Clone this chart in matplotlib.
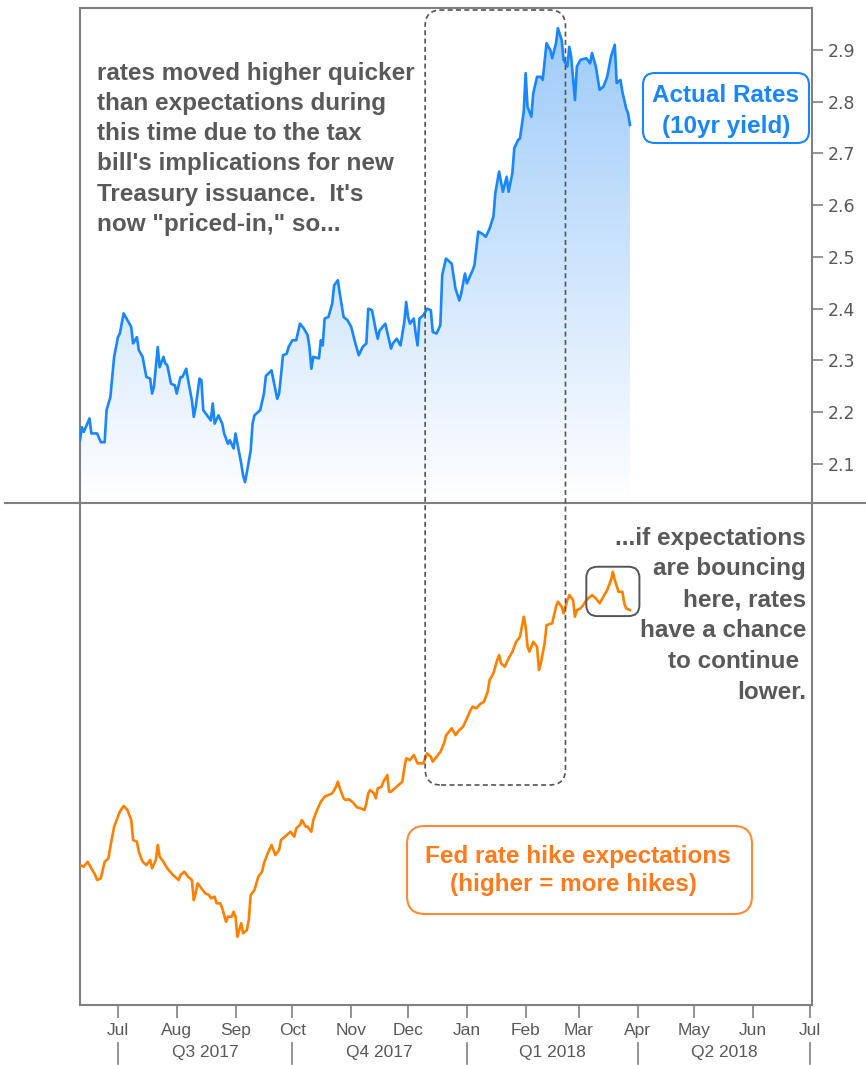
import matplotlib
matplotlib.use("Agg")
import matplotlib.pyplot as plt
import matplotlib.dates as mdates
import numpy as np
import pandas as pd
from matplotlib.patches import FancyBboxPatch
from matplotlib.lines import Line2D
from matplotlib.transforms import IdentityTransform, blended_transform_factory
from matplotlib.colors import LinearSegmentedColormap

# day offsets are counted from 1 Jul 2017
start = pd.Timestamp("2017-07-01")

# 10yr Treasury yield
yield_days = [-20, -19, -18, -15, -14, -11, -9, -7, -6, -4,
              -3, -2, 0, 1, 3, 5, 7, 8, 10, 11,
              13, 15, 17, 18, 19, 21, 22, 24, 25, 26,
              28, 30, 31, 33, 34, 36, 37, 39, 40, 41,
              43, 44, 45, 47, 49, 50, 51, 53, 55, 56,
              58, 59, 61, 62, 64, 65, 66, 67, 68, 70,
              71, 72, 75, 77, 78, 81, 82, 84, 85, 86,
              87, 89, 90, 92, 94, 96, 98, 100, 101, 102,
              103, 106, 107, 108, 109, 111, 113, 114, 116, 117,
              119, 121, 123, 125, 127, 129, 131, 132, 134, 136,
              137, 138, 141, 142, 144, 145, 147, 149, 151, 152,
              153, 154, 156, 157, 158, 159, 161, 163, 165, 166,
              168, 170, 171, 173, 176, 178, 180, 181, 183, 184,
              187, 188, 190, 192, 194, 196, 198, 199, 201, 203,
              205, 206, 208, 209, 211, 212, 214, 215, 216, 218,
              219, 221, 223, 224, 226, 228, 229, 231, 232, 234,
              235, 237, 238, 239, 241, 242, 244, 247, 249, 250,
              252, 254, 256, 258, 260, 262, 263, 265, 266, 268,
              269, 270]
yield_vals = [2.146, 2.171, 2.162, 2.188, 2.159, 2.159, 2.142, 2.142, 2.204, 2.229,
              2.268, 2.307, 2.345, 2.352, 2.391, 2.378, 2.365, 2.333, 2.345, 2.320,
              2.307, 2.268, 2.265, 2.236, 2.249, 2.326, 2.287, 2.307, 2.294, 2.291,
              2.255, 2.252, 2.236, 2.268, 2.268, 2.284, 2.262, 2.223, 2.191, 2.210,
              2.265, 2.262, 2.204, 2.194, 2.184, 2.217, 2.178, 2.194, 2.178, 2.159,
              2.139, 2.146, 2.130, 2.159, 2.120, 2.101, 2.078, 2.065, 2.084, 2.126,
              2.178, 2.194, 2.204, 2.236, 2.270, 2.281, 2.262, 2.226, 2.236, 2.271,
              2.310, 2.313, 2.326, 2.339, 2.339, 2.371, 2.362, 2.349, 2.326, 2.284,
              2.307, 2.304, 2.339, 2.329, 2.381, 2.384, 2.410, 2.445, 2.455, 2.429,
              2.384, 2.378, 2.365, 2.336, 2.310, 2.326, 2.333, 2.400, 2.397, 2.358,
              2.342, 2.358, 2.371, 2.355, 2.323, 2.333, 2.342, 2.329, 2.374, 2.413,
              2.384, 2.371, 2.381, 2.352, 2.329, 2.381, 2.387, 2.400, 2.397, 2.355,
              2.352, 2.368, 2.465, 2.497, 2.487, 2.439, 2.416, 2.429, 2.468, 2.449,
              2.474, 2.484, 2.549, 2.545, 2.539, 2.555, 2.578, 2.623, 2.665, 2.626,
              2.655, 2.626, 2.662, 2.710, 2.726, 2.729, 2.781, 2.855, 2.790, 2.771,
              2.816, 2.848, 2.848, 2.842, 2.913, 2.900, 2.884, 2.913, 2.942, 2.919,
              2.881, 2.868, 2.906, 2.887, 2.803, 2.868, 2.881, 2.884, 2.874, 2.894,
              2.868, 2.823, 2.829, 2.848, 2.887, 2.910, 2.836, 2.842, 2.819, 2.787,
              2.778, 2.755]

# fed rate hike expectations (index, no scale shown on the chart)
fed_days = [-20, -18, -16, -14, -12, -11, -9, -7, -5, -4,
            -2, 0, 1, 3, 5, 7, 8, 10, 11, 13,
            15, 17, 18, 20, 21, 22, 24, 26, 29, 32,
            33, 35, 37, 39, 40, 41, 42, 44, 46, 48,
            49, 51, 52, 54, 55, 57, 58, 60, 61, 62,
            63, 65, 66, 68, 69, 70, 72, 74, 76, 77,
            79, 81, 83, 85, 86, 89, 91, 93, 94, 96,
            97, 99, 100, 102, 103, 105, 107, 109, 111, 113,
            115, 116, 117, 119, 120, 122, 124, 126, 128, 130,
            131, 132, 133, 135, 136, 137, 139, 140, 142, 143,
            144, 146, 148, 150, 151, 152, 154, 156, 158, 159,
            161, 163, 165, 166, 168, 170, 172, 173, 176, 178,
            180, 182, 184, 186, 187, 189, 191, 193, 195, 196,
            198, 200, 201, 202, 204, 206, 208, 210, 212, 213,
            214, 215, 216, 217, 219, 221, 222, 223, 225, 226,
            229, 231, 232, 234, 235, 237, 238, 240, 241, 242,
            244, 246, 247, 250, 252, 254, 256, 258, 260, 261,
            262, 264, 266, 267, 268, 270]
fed_vals = [0.933, 0.922, 0.955, 0.911, 0.867, 0.833, 0.845, 0.955, 0.978, 1.055,
            1.189, 1.255, 1.289, 1.327, 1.300, 1.233, 1.100, 1.089, 1.022, 0.955,
            0.933, 0.967, 0.911, 0.967, 1.067, 0.989, 0.955, 0.911, 0.867, 0.833,
            0.867, 0.889, 0.855, 0.833, 0.700, 0.745, 0.811, 0.778, 0.745, 0.733,
            0.711, 0.722, 0.678, 0.678, 0.645, 0.555, 0.589, 0.589, 0.622, 0.589,
            0.455, 0.545, 0.478, 0.500, 0.567, 0.733, 0.767, 0.855, 0.889, 0.945,
            1.011, 1.067, 1.000, 1.033, 1.100, 1.133, 1.155, 1.122, 1.178, 1.200,
            1.233, 1.189, 1.189, 1.155, 1.233, 1.300, 1.355, 1.389, 1.400, 1.411,
            1.455, 1.489, 1.445, 1.378, 1.367, 1.371, 1.349, 1.318, 1.311, 1.300,
            1.345, 1.411, 1.433, 1.411, 1.378, 1.445, 1.455, 1.489, 1.533, 1.422,
            1.422, 1.445, 1.467, 1.489, 1.578, 1.645, 1.633, 1.667, 1.611, 1.611,
            1.611, 1.678, 1.655, 1.622, 1.655, 1.687, 1.745, 1.797, 1.845, 1.800,
            1.833, 1.855, 1.911, 1.967, 1.989, 1.978, 2.007, 2.022, 2.089, 2.167,
            2.211, 2.300, 2.333, 2.278, 2.255, 2.311, 2.355, 2.422, 2.455, 2.522,
            2.589, 2.522, 2.389, 2.355, 2.422, 2.389, 2.233, 2.278, 2.411, 2.533,
            2.545, 2.655, 2.689, 2.655, 2.611, 2.700, 2.733, 2.700, 2.589, 2.633,
            2.645, 2.678, 2.700, 2.733, 2.711, 2.678, 2.722, 2.767, 2.833, 2.889,
            2.833, 2.755, 2.755, 2.678, 2.645, 2.633]

month_labels = ["Jul", "Aug", "Sep", "Oct", "Nov", "Dec", "Jan",
                "Feb", "Mar", "Apr", "May", "Jun", "Jul"]
quarter_labels = ["Q3 2017", "Q4 2017", "Q1 2018", "Q2 2018"]
yield_ticks = [2.1, 2.2, 2.3, 2.4, 2.5, 2.6, 2.7, 2.8, 2.9]

yield_dates = start + pd.to_timedelta(yield_days, unit="D")
fed_dates = start + pd.to_timedelta(fed_days, unit="D")
month_ticks = pd.date_range("2017-07-01", "2018-07-01", freq="MS")
quarter_edges = pd.date_range("2017-07-01", "2018-07-01", freq="QS")

BLUE = "#1786ff"
ORANGE = "#ff8000"
GRAY = "#595959"
FRAME = "#808080"

plt.rcParams["font.family"] = ["Liberation Sans", "DejaVu Sans"]

W, H = 866, 1065
fig = plt.figure(figsize=(W / 100, H / 100), dpi=100)
ax_top = fig.add_axes([80 / W, 1 - 503 / H, 732 / W, 495 / H])
ax_bot = fig.add_axes([80 / W, 1 - 1005 / H, 732 / W, 502 / H], sharex=ax_top)

x0, x1 = pd.Timestamp("2017-06-11"), pd.Timestamp("2018-07-02")
ylo, yhi = 2.0246, 2.981

# --- top panel: 10yr yield with gradient fill
ax_top.plot(yield_dates, yield_vals, color=BLUE, lw=1.9, zorder=3)
poly = ax_top.fill_between(yield_dates, yield_vals, ylo, color="none", lw=0)
cmap = LinearSegmentedColormap.from_list("fade", ["#ffffff", "#9ecbfa"])
grad = np.linspace(0, 1, 256).reshape(-1, 1)
im = ax_top.imshow(grad, extent=[mdates.date2num(x0), mdates.date2num(x1), ylo, max(yield_vals)],
                   origin="lower", aspect="auto", cmap=cmap, zorder=1)
im.set_clip_path(poly.get_paths()[0], transform=ax_top.transData)
ax_top.set_xlim(x0, x1)
ax_top.set_ylim(ylo, yhi)
ax_top.yaxis.tick_right()
ax_top.set_yticks(yield_ticks)
ax_top.set_yticklabels([f"{v:.1f}" for v in yield_ticks], family="DejaVu Sans")
ax_top.tick_params(axis="y", length=8, width=1.2, color=FRAME, labelsize=12.5,
                   labelcolor=GRAY, pad=3)
ax_top.tick_params(axis="x", bottom=False, labelbottom=False)
ax_top.spines["bottom"].set_visible(False)

# --- bottom panel: hike expectations
ax_bot.plot(fed_dates, fed_vals, color=ORANGE, lw=1.9, zorder=3)
ax_bot.set_ylim(0, 3.347)
ax_bot.set_yticks([])
ax_bot.spines["top"].set_visible(False)
ax_bot.set_xticks(month_ticks)
ax_bot.set_xticklabels(month_labels)
ax_bot.tick_params(axis="x", length=9, width=1.2, color=FRAME, labelsize=12.5,
                   labelcolor=GRAY, pad=4)
ax_bot.set_xlim(x0, x1)

for ax in (ax_top, ax_bot):
    for sp in ax.spines.values():
        sp.set_color(FRAME)
        sp.set_linewidth(1.5)

# quarter row under the months
qtrans = blended_transform_factory(ax_bot.transData, fig.transFigure)
for d in quarter_edges:
    fig.add_artist(Line2D([mdates.date2num(d)] * 2, [1 - 1043 / H, 1 - 1064 / H],
                          transform=qtrans, color=FRAME, lw=1.2))
for a, b, lab in zip(quarter_edges[:-1], quarter_edges[1:], quarter_labels):
    mid = mdates.date2num(a) + (mdates.date2num(b) - mdates.date2num(a)) / 2
    fig.text(mid, 1 - 1053 / H, lab, transform=qtrans, ha="center", va="center",
             fontsize=12.5, color=GRAY)

# divider between the two panels
fig.add_artist(Line2D([5 / W, 1], [1 - 503 / H] * 2, transform=fig.transFigure,
                      color=FRAME, lw=1.5))


def px_box(xa, ya, xb, yb, r, **kw):
    # box given in image pixels (y down)
    p = FancyBboxPatch((xa, H - yb), xb - xa, yb - ya,
                       boxstyle=f"round,pad=0,rounding_size={r}",
                       transform=IdentityTransform(), **kw)
    fig.add_artist(p)


def put(x, y, s, **kw):
    fig.text(x / W, 1 - y / H, s, fontsize=17.5, fontweight="bold", **kw)


# dashed window Dec-Feb across both panels
fig.canvas.draw()
dx0 = ax_bot.transData.transform((mdates.date2num(pd.Timestamp("2017-12-10")), 0))[0]
dx1 = ax_bot.transData.transform((mdates.date2num(pd.Timestamp("2018-02-22")), 0))[0]
fig.add_artist(FancyBboxPatch((dx0, H - 785), dx1 - dx0, 775,
                              boxstyle="round,pad=0,rounding_size=16",
                              transform=IdentityTransform(), fc="none",
                              ec="#555555", lw=1.2, ls=(0, (3, 2)), zorder=5))

# small box around the latest bounce in expectations
b0 = ax_bot.transData.transform((mdates.date2num(pd.Timestamp("2018-03-05")), 2.593))
b1 = ax_bot.transData.transform((mdates.date2num(pd.Timestamp("2018-04-02")), 2.922))
fig.add_artist(FancyBboxPatch((b0[0], b0[1]), b1[0] - b0[0], b1[1] - b0[1],
                              boxstyle="round,pad=0,rounding_size=11",
                              transform=IdentityTransform(), fc="none",
                              ec="#555555", lw=1.4, zorder=5))

# annotations
rates_lines = ["rates moved higher quicker", "than expectations during",
               "this time due to the tax", "bill's implications for new",
               "Treasury issuance.  It's", "now \"priced-in,\" so..."]
for i, s in enumerate(rates_lines):
    put(97, 73 + i * 30.3, s, color=GRAY, ha="left", va="center")

right_lines = ["...if expectations", "are bouncing", "here, rates",
               "have a chance", "to continue ", "lower."]
for i, s in enumerate(right_lines):
    put(806, 538 + i * 30.9, s, color=GRAY, ha="right", va="center")

px_box(643, 73, 809, 143, 12, fc="white", ec=BLUE, lw=1.5, zorder=4)
put(726, 95, "Actual Rates", color=BLUE, ha="center", va="center", zorder=6)
put(726, 126, "(10yr yield)", color=BLUE, ha="center", va="center", zorder=6)

px_box(407, 826, 752, 914, 18, fc="white", ec="#ff8a33", lw=1.5, zorder=4)
put(578, 856, "Fed rate hike expectations", color="#ff7a1a", ha="center", va="center", zorder=6)
put(573, 885, "(higher = more hikes)", color="#ff7a1a", ha="center", va="center", zorder=6)

fig.savefig("out.png", dpi=100)
